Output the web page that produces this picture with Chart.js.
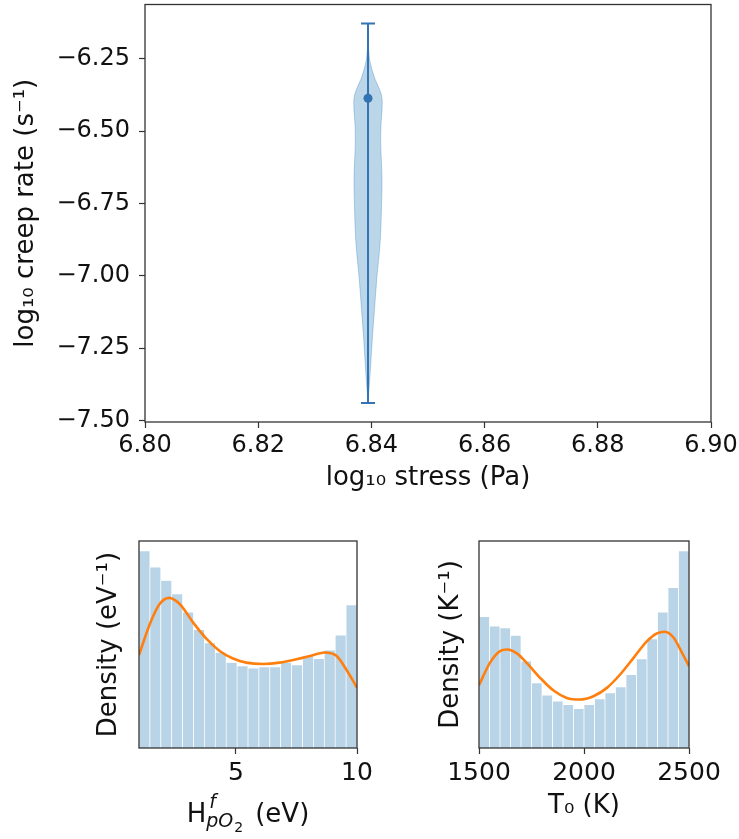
<!DOCTYPE html>
<html>
<head>
<meta charset="utf-8">
<script src="https://cdn.jsdelivr.net/npm/chart.js@4"></script>
<style>
  html, body { margin: 0; padding: 0; background: #fff; }
  #wrap { position: relative; width: 739px; height: 839px; overflow: hidden; }
  canvas { position: absolute; }
</style>
</head>
<body>
<div id="wrap">
  <canvas id="violin" width="739" height="500" style="left:0;top:0"></canvas>
  <canvas id="histH" width="400" height="339" style="left:0;top:500px"></canvas>
  <canvas id="histT" width="369" height="339" style="left:370px;top:500px"></canvas>
</div>
<script>
// top panel: creep rate at a single stress level
const stressLog = 6.8394;
const rateMedian = -6.386;
const rateLow = -7.439;
const rateHigh = -6.128;
const violinLevels = [-6.19, -6.214, -6.259, -6.317, -6.351, -6.385, -6.431, -6.477, -6.545, -6.66, -6.774, -6.889, -7.003, -7.118, -7.232, -7.347, -7.436];
const violinDensity = [0, 0.04, 0.14, 0.48, 0.79, 1.0, 1.0, 0.93, 0.91, 1.0, 0.96, 0.86, 0.64, 0.46, 0.29, 0.14, 0];
const stressTicks = [6.80, 6.82, 6.84, 6.86, 6.88, 6.90];
const rateTicks = [-7.50, -7.25, -7.00, -6.75, -6.50, -6.25];

// bottom left: formation enthalpy histogram + kde
const hRange = [1, 10];
const hDensity = [0.193, 0.177, 0.164, 0.151, 0.133, 0.116, 0.103, 0.0935, 0.0837, 0.0804, 0.0781, 0.0794, 0.0794, 0.0837, 0.0814, 0.0902, 0.0876, 0.0958, 0.1106, 0.140];
const hKdeX = [1.0, 1.44, 1.85, 2.24, 2.68, 3.23, 3.78, 4.33, 4.88, 5.43, 6.12, 6.81, 7.50, 8.18, 8.66, 9.15, 9.55, 10.0];
const hKdeY = [0.091, 0.121, 0.141, 0.147, 0.141, 0.123, 0.107, 0.095, 0.0876, 0.0836, 0.0823, 0.0836, 0.0869, 0.0909, 0.0935, 0.0902, 0.0771, 0.059];
const hTicks = [5, 10];

// bottom right: T0 histogram + kde
const tRange = [1500, 2500];
const tDensity = [0.001463, 0.001359, 0.001340, 0.001255, 0.000968, 0.000726, 0.000588, 0.000521, 0.000484, 0.000439, 0.000484, 0.000547, 0.000614, 0.000681, 0.000819, 0.000994, 0.001217, 0.001515, 0.001787, 0.002197];
const tKdeX = [1500, 1552, 1600, 1635, 1680, 1727, 1791, 1855, 1918, 1979, 2045, 2109, 2172, 2236, 2300, 2347, 2384, 2427, 2467, 2500];
const tKdeY = [0.000700, 0.000949, 0.001080, 0.001098, 0.001054, 0.000949, 0.000782, 0.000640, 0.000558, 0.000540, 0.000577, 0.000670, 0.000819, 0.001005, 0.001191, 0.001277, 0.001296, 0.001229, 0.001061, 0.000912];
const tTicks = [1500, 2000, 2500];

const FAMILY = '"DejaVu Sans", sans-serif';
const AXIS = '#333';
const BLUE = '#3474b4';
const BAR = '#bad4e7';
const ORANGE = '#ff7f0e';

Chart.defaults.font.family = FAMILY;
Chart.defaults.color = '#111';
Chart.defaults.animation = false;
Chart.defaults.responsive = false;
Chart.defaults.devicePixelRatio = 1;
Chart.defaults.events = [];
Chart.defaults.plugins.legend.display = false;
Chart.defaults.plugins.tooltip.enabled = false;

const tickGrid = len => ({display: true, drawOnChartArea: false, drawTicks: true, tickLength: len, tickColor: AXIS, tickWidth: 1.2});
const fixedTicks = list => s => { s.ticks = list.map(v => ({value: v})); };
const minus = v => (v < 0 ? '\u2212' : '') + Math.abs(v).toFixed(2);
// fixed axis box size, and no extra room for overhanging labels
const fitX = h => s => { s.height = h; s.paddingLeft = 0; s.paddingRight = 0; };
const fitY = w => s => { s.width = w; s.paddingTop = 0; s.paddingBottom = 0; };

// matplotlib style box around the axes
const framePlugin = {
  id: 'frame',
  afterDatasetsDraw(chart) {
    const {ctx, chartArea: a} = chart;
    ctx.save();
    ctx.strokeStyle = AXIS;
    ctx.lineWidth = 1.3;
    ctx.strokeRect(a.left, a.top, a.right - a.left, a.bottom - a.top);
    ctx.restore();
  }
};

// ---- violin ----
const halfW = 0.00247, capW = 0.00124;
const leftEdge = violinLevels.map((y, i) => ({x: stressLog - halfW * violinDensity[i], y}));
const rightEdge = violinLevels.map((y, i) => ({x: stressLog + halfW * violinDensity[i], y})).reverse();

new Chart(document.getElementById('violin'), {
  type: 'line',
  data: {
    datasets: [
      {data: [{x: stressLog, y: rateMedian}], showLine: false, pointRadius: 4.5,
       pointBackgroundColor: BLUE, pointBorderWidth: 0, order: 0},
      {data: [{x: stressLog, y: rateLow}, {x: stressLog, y: rateHigh}], borderColor: BLUE, borderWidth: 2, pointRadius: 0, order: 1},
      {data: [{x: stressLog - capW, y: rateHigh}, {x: stressLog + capW, y: rateHigh}], borderColor: BLUE, borderWidth: 2, pointRadius: 0, order: 1},
      {data: [{x: stressLog - capW, y: rateLow}, {x: stressLog + capW, y: rateLow}], borderColor: BLUE, borderWidth: 2, pointRadius: 0, order: 1},
      {data: leftEdge.concat(rightEdge), fill: 'shape', backgroundColor: 'rgba(31,119,180,0.3)',
       borderColor: 'rgba(31,119,180,0.3)', borderWidth: 1, pointRadius: 0, tension: 0.3, order: 2}
    ]
  },
  options: {
    layout: {padding: {left: 0, top: 3, right: 28, bottom: 0}},
    scales: {
      x: {
        type: 'linear', min: 6.80, max: 6.90,
        afterBuildTicks: fixedTicks(stressTicks),
        afterFit: fitX(78),
        ticks: {font: {size: 24}, padding: 3, autoSkip: false, maxRotation: 0, callback: v => v.toFixed(2)},
        grid: tickGrid(6), border: {display: false},
        title: {display: true, text: 'log₁₀ stress (Pa)', font: {size: 26}, padding: {top: 0, bottom: 6}}
      },
      y: {
        type: 'linear', min: -7.505, max: -6.062,
        afterBuildTicks: fixedTicks(rateTicks),
        afterFit: fitY(145),
        ticks: {font: {size: 24}, padding: 9, autoSkip: false, callback: minus},
        grid: tickGrid(6), border: {display: false},
        title: {display: true, text: 'log₁₀ creep rate (s⁻¹)', font: {size: 26}, padding: {top: 11, bottom: 0}}
      }
    }
  },
  plugins: [framePlugin]
});

// ---- H^f_pO2 axis label with sub/superscripts ----
const hTitlePlugin = {
  id: 'hTitle',
  afterDraw(chart) {
    const {ctx, chartArea: a} = chart;
    const base = a.bottom + 74;
    ctx.save();
    ctx.fillStyle = '#111';
    ctx.textBaseline = 'alphabetic';
    ctx.textAlign = 'left';
    ctx.font = '26px ' + FAMILY;
    const wH = ctx.measureText('H').width;
    const wTail = ctx.measureText('(eV)').width;
    ctx.font = 'italic 19px ' + FAMILY;
    const wf = ctx.measureText('f').width;
    const wp = ctx.measureText('pO').width;
    ctx.font = '14px ' + FAMILY;
    const w2 = ctx.measureText('2').width;
    const wScript = Math.max(wf + 3, wp + w2 + 1);
    const gap = 12;
    let x = (a.left + a.right) / 2 - (wH + wScript + gap + wTail) / 2;
    ctx.font = '26px ' + FAMILY;
    ctx.fillText('H', x, base);
    x += wH;
    ctx.font = 'italic 19px ' + FAMILY;
    ctx.fillText('f', x + 3, base - 14);
    ctx.fillText('pO', x, base + 5);
    ctx.font = '14px ' + FAMILY;
    ctx.fillText('2', x + wp + 1, base + 10);
    x += wScript + gap;
    ctx.font = '26px ' + FAMILY;
    ctx.fillText('(eV)', x, base);
    ctx.restore();
  }
};

// ---- histograms ----
function histChart(id, o) {
  const w = (o.range[1] - o.range[0]) / o.density.length;
  const bars = o.density.map((d, i) => ({x: o.range[0] + w * (i + 0.5), y: d}));
  const kde = o.kdeX.map((x, i) => ({x, y: o.kdeY[i]}));
  return new Chart(document.getElementById(id), {
    type: 'bar',
    data: {
      datasets: [
        {type: 'line', data: kde, borderColor: ORANGE, borderWidth: 2.6, pointRadius: 0,
         cubicInterpolationMode: 'monotone', order: 0},
        {type: 'bar', data: bars, backgroundColor: BAR, borderColor: '#fff', borderWidth: 0.7,
         barPercentage: 1, categoryPercentage: 1, order: 1}
      ]
    },
    options: {
      layout: {padding: {left: 0, top: 41, right: o.rightPad, bottom: 0}},
      scales: {
        x: {
          type: 'linear', min: o.range[0], max: o.range[1], offset: false,
          afterBuildTicks: fixedTicks(o.ticks),
          afterFit: fitX(91),
          ticks: {font: {size: 25}, padding: 4, autoSkip: false, maxRotation: 0, callback: v => String(v)},
          grid: Object.assign(tickGrid(6), {offset: false}), border: {display: false},
          title: o.xTitle ? {display: true, text: o.xTitle, font: {size: 26}, padding: {top: 0, bottom: 17}} : {display: false}
        },
        y: {
          min: 0, max: Math.max(...o.density) * 1.05,
          afterFit: fitY(o.yWidth),
          ticks: {display: false}, grid: {display: false}, border: {display: false},
          title: {display: true, text: o.yTitle, font: {size: 26}, padding: {top: o.yTitlePad, bottom: 0}}
        }
      }
    },
    plugins: o.plugins
  });
}

histChart('histH', {
  range: hRange, density: hDensity, kdeX: hKdeX, kdeY: hKdeY, ticks: hTicks,
  yTitle: 'Density (eV⁻¹)', yWidth: 139, yTitlePad: 94, rightPad: 43,
  plugins: [framePlugin, hTitlePlugin]
});

histChart('histT', {
  range: tRange, density: tDensity, kdeX: tKdeX, kdeY: tKdeY, ticks: tTicks,
  xTitle: 'T₀ (K)', yTitle: 'Density (K⁻¹)', yWidth: 109, yTitlePad: 66, rightPad: 50,
  plugins: [framePlugin]
});
</script>
</body>
</html>
